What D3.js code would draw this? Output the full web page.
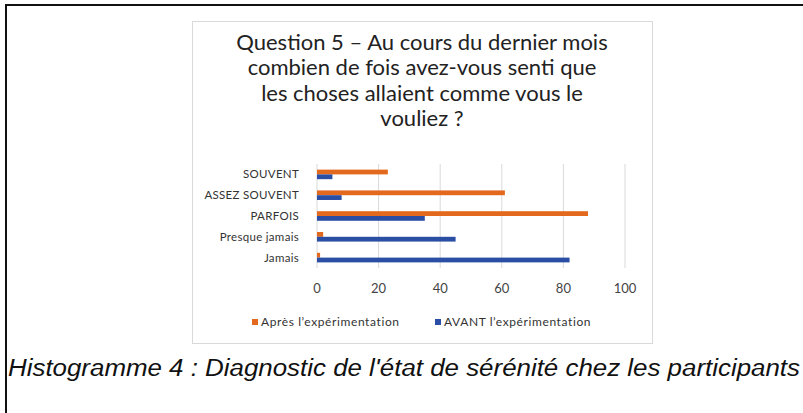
<!DOCTYPE html>
<html>
<head>
<meta charset="utf-8">
<script src="https://cdn.jsdelivr.net/npm/d3@7"></script>
<style>
  body { margin: 0; background: #fff; }
  svg { display: block; }
</style>
</head>
<body>
<div id="chart-area"></div>
<script>
// categories, top to bottom as in the picture
const categories = ['SOUVENT', 'ASSEZ SOUVENT', 'PARFOIS', 'Presque jamais', 'Jamais'];
const apres = [23, 61, 88, 2, 1];
const avant = [5, 8, 35, 45, 82];
const seriesNames = ['Après  l\u2019expérimentation', 'AVANT l\u2019expérimentation'];
const xTicks = [0, 20, 40, 60, 80, 100];
const titleLines = [
  'Question 5 \u2013 Au cours du dernier mois',
  'combien de fois avez-vous senti que',
  'les choses allaient comme vous le',
  'vouliez ?'
];
const caption = 'Histogramme 4 : Diagnostic de l\'état de sérénité chez les participants';

const W = 803, H = 413;
const colors = ['#e2691d', '#2b4ea5'];

const svg = d3.select('#chart-area')
  .append('svg')
  .attr('width', W)
  .attr('height', H);

// outer black frame (only top/left visible)
svg.append('rect')
  .attr('x', 6).attr('y', 5)
  .attr('width', 820).attr('height', 430)
  .attr('fill', 'none')
  .attr('stroke', '#111')
  .attr('stroke-width', 2);

// chart area frame
svg.append('rect')
  .attr('x', 192.5).attr('y', 21.5)
  .attr('width', 460).attr('height', 322)
  .attr('fill', '#fff')
  .attr('stroke', '#d9d9d9');

// title
svg.append('g').selectAll('text')
  .data(titleLines)
  .enter()
  .append('text')
  .attr('x', 422)
  .attr('y', (d, i) => 50 + i * 25.3)
  .attr('text-anchor', 'middle')
  .attr('font-family', 'Lato, sans-serif')
  .attr('font-size', '22px')
  .attr('fill', '#222')
  .text(d => d);

/* plot area: 0 at x=317, 100 at x=625 */
const margin = { left: 317, top: 164 };
const width = 308, height = 104;

const g = svg.append('g')
  .attr('transform', 'translate(' + margin.left + ',' + margin.top + ')');

const x = d3.scaleLinear().domain([0, 100]).range([0, width]);
const y = d3.scaleBand().domain(categories).range([0, height])
  .paddingInner(0.54).paddingOuter(0.27);

// gridlines
g.append('g').selectAll('line')
  .data(xTicks)
  .enter()
  .append('line')
  .attr('x1', d => x(d)).attr('x2', d => x(d))
  .attr('y1', 0).attr('y2', height)
  .attr('stroke', '#d9d9d9');

// x tick labels
g.append('g').selectAll('text')
  .data(xTicks)
  .enter()
  .append('text')
  .attr('x', d => x(d))
  .attr('y', height + 25)
  .attr('text-anchor', 'middle')
  .attr('font-family', 'Lato, sans-serif')
  .attr('font-size', '13px')
  .attr('fill', '#444')
  .text(d => d);

// category labels
g.append('g').selectAll('text')
  .data(categories)
  .enter()
  .append('text')
  .attr('x', -18)
  .attr('y', d => y(d) + y.bandwidth() / 2 + 4)
  .attr('text-anchor', 'end')
  .attr('font-family', 'Lato, sans-serif')
  .attr('font-size', '11.5px')
  .attr('letter-spacing', '0.3px')
  .attr('fill', '#333')
  .text(d => d);

const sub = d3.scaleBand().domain([0, 1]).range([0, y.bandwidth()]);

[apres, avant].forEach((vals, s) => {
  g.append('g').selectAll('rect')
    .data(vals)
    .enter()
    .append('rect')
    .attr('x', 0)
    .attr('y', (d, i) => y(categories[i]) + sub(s))
    .attr('width', d => x(d))
    .attr('height', sub.bandwidth())
    .attr('fill', colors[s]);
});

// legend
const legendX = [252, 435];
const leg = svg.append('g').selectAll('g')
  .data(seriesNames)
  .enter()
  .append('g')
  .attr('transform', (d, i) => 'translate(' + legendX[i] + ', 318)');
leg.append('rect')
  .attr('width', 6).attr('height', 6)
  .attr('y', 1)
  .attr('fill', (d, i) => colors[i]);
leg.append('text')
  .attr('x', 9).attr('y', 8)
  .attr('font-family', 'Lato, sans-serif')
  .attr('font-size', '12px')
  .attr('letter-spacing', '0.6px')
  .attr('fill', '#333')
  .text(d => d);

// caption
svg.append('text')
  .attr('x', 8)
  .attr('y', 376)
  .attr('font-family', '"Liberation Sans", Arial, sans-serif')
  .attr('font-style', 'italic')
  .attr('font-size', '23px')
  .attr('textLength', 792)
  .attr('lengthAdjust', 'spacingAndGlyphs')
  .attr('fill', '#111')
  .text(caption);
</script>
</body>
</html>
